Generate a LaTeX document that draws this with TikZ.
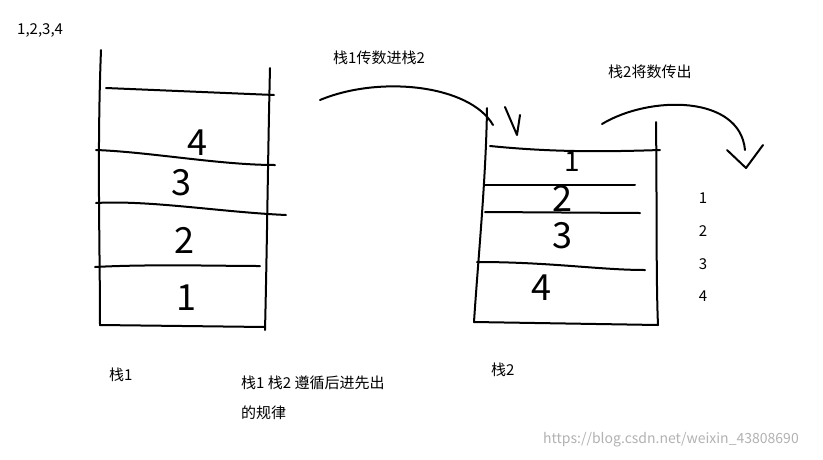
\documentclass[tikz,border=0pt]{standalone}
\usepackage{fontspec}
\setmainfont{Noto Sans CJK SC}
\begin{document}
\begin{tikzpicture}[x=1pt,y=-1pt,
  pen/.style={line width=2pt,line cap=round,line join=round},
  lbl/.style={font=\fontsize{15}{17}\selectfont,inner sep=0pt},
  num/.style={font=\fontsize{36}{36}\selectfont,inner sep=0pt}]
\useasboundingbox (0,0) rectangle (823,459);
\fill[white] (0,0) rectangle (823,459);
% stack 1
\draw[pen] (101,50) .. controls (97,150) and (100,250) .. (100,325);
\draw[pen] (270,68) .. controls (268,150) and (267,250) .. (265,330);
\draw[pen] (100,325) -- (265,327);
\draw[pen] (106,88) -- (274,95);
\draw[pen] (96,150) .. controls (150,152) and (220,165) .. (275,165);
\draw[pen] (96,203) .. controls (150,200) and (220,212) .. (286,215);
\draw[pen] (95,267) .. controls (150,264) and (220,266) .. (260,266);
\node[num] (n4) at (197,143) {4};
\node[num] (n3) at (181,183) {3};
\node[num] (n2) at (184,240) {2};
\node[num] (n1) at (186,298) {1};
% stack 2
\draw[pen] (487,108) .. controls (486,180) and (478,260) .. (474,322);
\draw[pen] (656,122) .. controls (657,200) and (656,280) .. (658,325);
\draw[pen] (474,322) -- (658,325);
\draw[pen] (490,146) .. controls (550,152) and (600,152) .. (660,150);
\draw[pen] (485,185) -- (635,185);
\draw[pen] (485,212) -- (640,213);
\draw[pen] (477,262) .. controls (550,262) and (600,270) .. (645,270);
\node[num,font=\fontsize{28}{28}\selectfont] (m1) at (572,162) {1};
\node[num] (m2) at (562,198) {2};
\node[num] (m3) at (562,236) {3};
\node[num] (m4) at (541,288) {4};
% arrows
\coordinate (a1s) at (320,100);
\coordinate (a1e) at (493,125);
\draw[pen] (a1s) .. controls (380,75) and (470,85) .. (a1e);
\draw[pen] (505,107) -- (517,135) -- (520,115);
\coordinate (a2s) at (602,124);
\coordinate (a2e) at (745,150);
\draw[pen] (a2s) .. controls (650,95) and (740,95) .. (a2e);
\draw[pen] (727,150) -- (746,168) -- (763,145);
% texts
\node[lbl,anchor=west] (t0) at (17,30) {1,2,3,4};
\node[lbl,anchor=west] (t1) at (333,58) {栈1传数进栈2};
\node[lbl,anchor=west] (t2) at (608,72) {栈2将数传出};
\node[lbl] (o1) at (703,198) {1};
\node[lbl] (o2) at (703,231) {2};
\node[lbl] (o3) at (703,264) {3};
\node[lbl] (o4) at (703,296) {4};
\node[lbl,anchor=west] (s1) at (109,375) {栈1};
\node[lbl,anchor=west] (s2) at (491,370) {栈2};
\node[lbl,anchor=west] (r1) at (241,383) {栈1 栈2 遵循后进先出};
\node[lbl,anchor=west] (r2) at (241,413) {的规律};
\node[anchor=west,inner sep=0pt,text=gray!60,font=\fontsize{14}{16}\selectfont] (w) at (543,440) {https://blog.csdn.net/weixin\_43808690};
\end{tikzpicture}
\end{document}
